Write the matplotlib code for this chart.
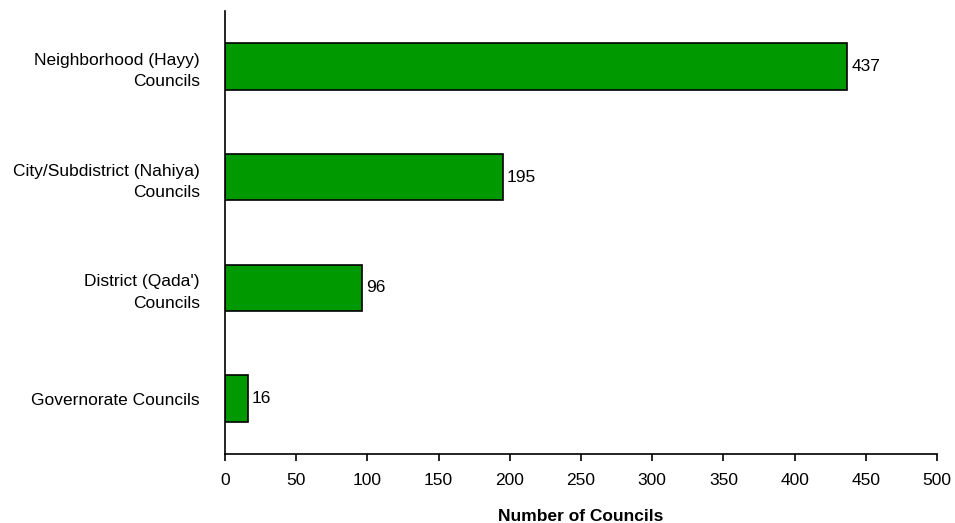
import matplotlib.pyplot as plt

plt.rcParams['font.family'] = ['Liberation Sans', 'DejaVu Sans']

# council types, bottom to top
categories = ['Governorate Councils', "District (Qada')\nCouncils",
              'City/Subdistrict (Nahiya)\nCouncils', 'Neighborhood (Hayy)\nCouncils']
counts = [16, 96, 195, 437]

fig = plt.figure(figsize=(9.55, 5.23), dpi=100)
ax = fig.add_axes([0.2356, 0.1319, 0.7456, 0.8471])

ypos = range(len(categories))
bars = ax.barh(ypos, counts, height=0.42, color='#009900', edgecolor='black', linewidth=1.2)

# value labels next to each bar
for y, v in zip(ypos, counts):
    ax.text(v + 3, y, str(v), va='center', ha='left', fontsize=12.5)

ax.set_xlim(0, 500)
ax.set_ylim(-0.5, 3.5)
ax.set_xticks(range(0, 501, 50))
ax.set_yticks(list(ypos))
ax.set_yticklabels(categories, ha='right', multialignment='right', linespacing=1.55)
ax.tick_params(axis='y', length=0, pad=18, labelsize=12.5)
ax.tick_params(axis='x', direction='out', length=5, width=1.2, pad=9, labelsize=12.5)

for side in ['top', 'right']:
    ax.spines[side].set_visible(False)
for side in ['left', 'bottom']:
    ax.spines[side].set_linewidth(1.2)

ax.set_xlabel('Number of Councils', fontweight='bold', fontsize=12.5, labelpad=15)

fig.savefig('out.png', dpi=100)
